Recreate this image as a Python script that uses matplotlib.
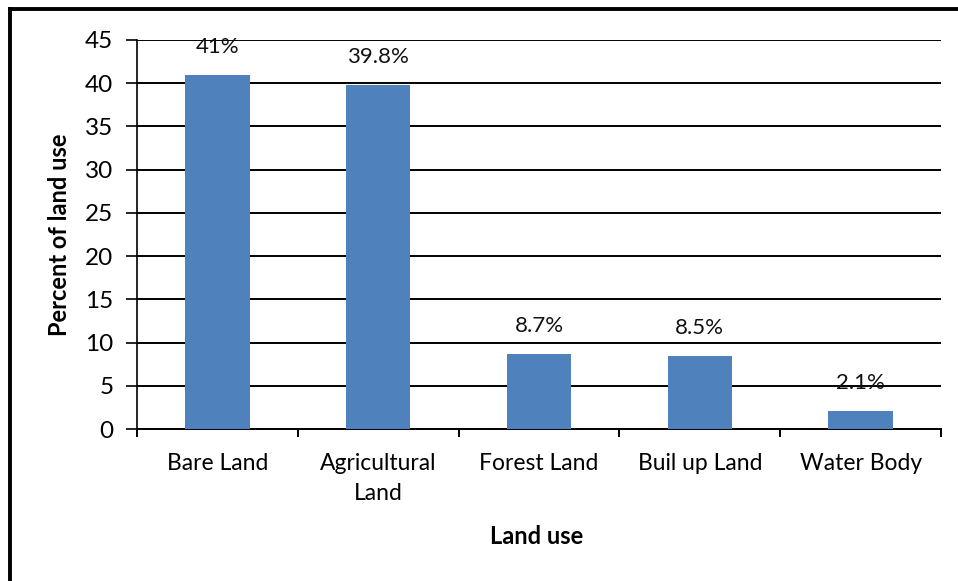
import matplotlib

matplotlib.use("Agg")
import matplotlib.pyplot as plt
from matplotlib.lines import Line2D

plt.rcParams.update({"font.family": ["Lato", "DejaVu Sans"]})

categories = ["Bare Land", "Agricultural\nLand", "Forest Land", "Buil up Land", "Water Body"]
percent = [41.0, 39.8, 8.7, 8.5, 2.1]
point_labels = ["41%", "39.8%", "8.7%", "8.5%", "2.1%"]
y_ticks = [0, 5, 10, 15, 20, 25, 30, 35, 40, 45]

fig = plt.figure(figsize=(9.58, 5.81), dpi=100)
ax = fig.add_axes([137 / 958, 1 - 429 / 581, (941 - 137) / 958, (429 - 40) / 581])

x = list(range(len(categories)))
ax.bar(x, percent, width=0.4, color="#4F81BD", zorder=3)
for xi, v, lab in zip(x, percent, point_labels):
    ax.annotate(lab, (xi, v), xytext=(0, 20), textcoords="offset points",
                ha="center", va="center", fontsize=16, color="#111111")

ax.set_xlim(-0.5, len(categories) - 0.5)
ax.set_ylim(0, 45)
ax.set_yticks(y_ticks)
ax.set_yticklabels([str(t) for t in y_ticks], fontsize=17.5)
ax.yaxis.grid(True, color="black", linewidth=1.4, zorder=0)
ax.set_axisbelow(True)

# category labels sit between the boundary ticks
ax.set_xticks(x)
ax.set_xticklabels(categories, fontsize=16.5, linespacing=1.55)
ax.tick_params(axis="x", length=0, pad=17)
ax.tick_params(axis="y", length=8, width=1.2, pad=9, direction="out")
for b in [i - 0.5 for i in range(len(categories) + 1)]:
    ax.plot([b, b], [0, -0.8], color="black", lw=1.4, clip_on=False)

for side in ["top", "right"]:
    ax.spines[side].set_visible(False)
ax.spines["left"].set_linewidth(1.2)
ax.spines["bottom"].set_linewidth(1.4)

ax.set_ylabel("Percent of land use", fontsize=17, fontweight="bold", labelpad=10)
fig.text(537 / 958, 1 - 537 / 581, "Land use", ha="center", va="center",
         fontsize=17, fontweight="bold")

# outer chart frame: left and top edges only
fig.add_artist(Line2D([9.5 / 958, 9.5 / 958], [0, 1 - 9 / 581], color="black", lw=2.8))
fig.add_artist(Line2D([9.5 / 958, 1], [1 - 9 / 581, 1 - 9 / 581], color="black", lw=2.8))

fig.savefig("out.png", dpi=100, facecolor="white")
